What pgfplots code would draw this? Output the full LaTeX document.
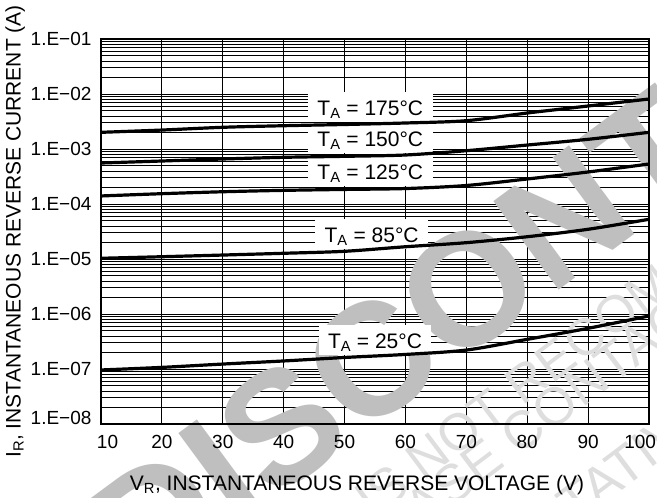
\documentclass[border=0pt]{standalone}
\usepackage{pgfplots}
\pgfplotsset{compat=1.18}
\usepackage{fontspec}
\setmainfont{Liberation Sans}
\tikzset{lbl/.style={fill=white, anchor=base, inner xsep=9.5pt, inner ysep=2pt,
    text height=21.5pt, text depth=4.3pt, font=\fontsize{21}{21}\selectfont}}
\pgfplotsset{
  layers/wm/.define layer set={
    axis background, axis grid, pre main, axis ticks, axis lines,
    axis tick labels, main, axis descriptions, axis foreground
  }{/pgfplots/layers/standard},
}
\begin{document}
\begin{tikzpicture}
\begin{axis}[
  set layers=wm,
  scale only axis, width=548pt, height=385pt,
  xmin=10, xmax=100, ymode=log, ymin=1e-8, ymax=1e-1,
  clip=false,
  xtick={10,20,30,40,50,60,70,80,90,100},
  xticklabels={\makebox[8pt][l]{10},20,30,40,50,60,70,80,90,\makebox[14pt][r]{100}},
  ytick={1e-8,1e-7,1e-6,1e-5,1e-4,1e-3,1e-2,1e-1},
  yticklabels={\raisebox{12pt}{1.E−08},1.E−07,1.E−06,1.E−05,1.E−04,1.E−03,1.E−02,1.E−01},
  grid=both,
  major grid style={black, line width=0.8pt},
  minor grid style={black, line width=0.65pt},
  axis line style={black, line width=1.8pt},
  major tick length=0pt, minor tick length=0pt,
  ticklabel style={font=\fontsize{19}{19}\selectfont},
  xticklabel style={yshift=-8pt},
  yticklabel style={xshift=-6pt},
  label style={font=\fontsize{21}{21}\selectfont},
  xlabel={V\textsubscript{R}, INSTANTANEOUS REVERSE VOLTAGE (V)},
  ylabel={I\textsubscript{R}, INSTANTANEOUS REVERSE CURRENT (A)},
  xlabel style={xshift=-18pt, yshift=-19pt},
  ylabel style={yshift=-1pt},
]
\begin{pgfonlayer}{pre main}
\node[rotate=36.4, anchor=base west, text=black!25, inner sep=0pt,
  font=\fontsize{160}{160}\selectfont\bfseries] at (axis cs:16.78,6.98e-12) {DISCONTINUED};
\node[rotate=37, anchor=base west, text=black!13, inner sep=0pt,
  font=\fontsize{52}{52}\selectfont] at (axis cs:9.87,3.36e-14) {THIS DEVICE IS NOT RECOMMENDED FOR NEW DESIGN.};
\node[rotate=37, anchor=base west, text=black!13, inner sep=0pt,
  font=\fontsize{53}{53}\selectfont] at (axis cs:49.62,9.7e-12) {PLEASE CONTACT YOUR ON SEMICONDUCTOR};
\node[rotate=37, anchor=base west, text=black!13, inner sep=0pt,
  font=\fontsize{53}{53}\selectfont] at (axis cs:49.73,9.3e-14) {REPRESENTATIVE FOR INFORMATION};
\end{pgfonlayer}

\node[lbl] at (axis cs:54.23,4.03e-3) {T\textsubscript{A} = 175°C};
\node[lbl] at (axis cs:54.23,1.10e-3) {T\textsubscript{A} = 150°C};
\node[lbl] at (axis cs:54.23,2.81e-4) {T\textsubscript{A} = 125°C};
\node[lbl] at (axis cs:54.45,1.98e-5) {T\textsubscript{A} = 85°C};
\node[lbl] at (axis cs:55.0,2.38e-7) {T\textsubscript{A} = 25°C};

\addplot[black, line width=3.2pt, smooth] coordinates {
(10,2.01e-3) (20,2.21e-3) (30,2.48e-3) (40,2.65e-3) (50,2.79e-3)
(60,2.97e-3) (70,3.27e-3) (80,4.51e-3) (90,6.05e-3) (100,8.11e-3)};
\addplot[black, line width=3.2pt, smooth] coordinates {
(10,5.56e-4) (20,6.05e-4) (30,6.58e-4) (40,7.06e-4) (50,7.36e-4)
(60,7.78e-4) (70,9.31e-4) (80,1.18e-3) (90,1.50e-3) (100,2.01e-3)};
\addplot[black, line width=3.2pt, smooth] coordinates {
(10,1.40e-4) (20,1.54e-4) (30,1.67e-4) (40,1.77e-4) (50,1.84e-4)
(60,1.91e-4) (70,2.17e-4) (80,2.85e-4) (90,3.82e-4) (100,5.34e-4)};
\addplot[black, line width=3.2pt, smooth] coordinates {
(10,1.03e-5) (20,1.10e-5) (30,1.18e-5) (40,1.27e-5) (50,1.38e-5)
(60,1.67e-5) (70,1.98e-5) (80,2.54e-5) (90,3.47e-5) (100,5.27e-5)};
\addplot[black, line width=3.2pt, smooth] coordinates {
(10,9.6e-8) (20,1.07e-7) (30,1.23e-7) (40,1.40e-7) (50,1.62e-7)
(60,1.84e-7) (70,2.21e-7) (80,3.46e-7) (90,5.49e-7) (100,9.2e-7)};
\end{axis}
\pgfresetboundingbox
\path (current axis.south west) ++(-101pt,-74pt) rectangle ++(657pt,498pt);
\end{tikzpicture}
\end{document}
